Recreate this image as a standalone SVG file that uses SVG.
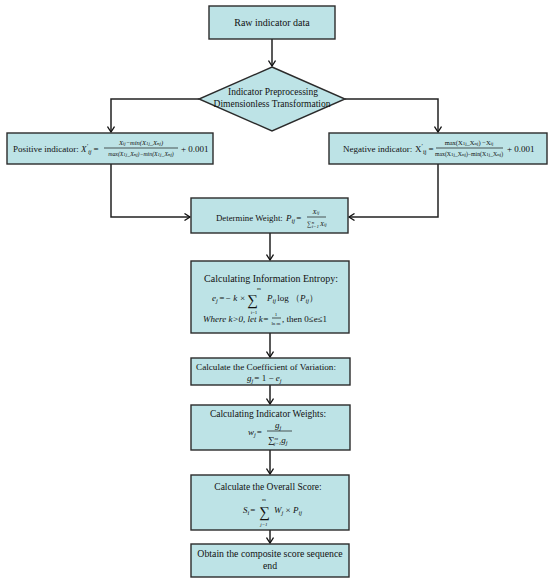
<svg xmlns="http://www.w3.org/2000/svg" width="550" height="583" viewBox="0 0 550 583">
<defs>
<marker id="arr" markerWidth="8" markerHeight="8" refX="6" refY="4" orient="auto" markerUnits="userSpaceOnUse">
<path d="M0.5,0.5 L6,4 L0.5,7.5" fill="none" stroke="#111" stroke-width="1.3"/>
</marker>
<style>
.box{fill:#bde3e6;stroke:#2b2b2b;stroke-width:1.4}
.ln{fill:none;stroke:#222;stroke-width:1.5}
text{font-family:"Liberation Serif","Times New Roman",serif;fill:#111;font-size:11px}
.c{text-anchor:middle}
.m{font-size:9px}
.s{font-size:6.5px}
.xs{font-size:5px}
.i{font-style:italic}
.sig{font-size:15px}
.bar{stroke:#151515;stroke-width:0.7}
</style>
</defs>
<rect width="550" height="583" fill="#ffffff"/>

<g id="connectors">
<path class="ln" d="M272,39 V66" marker-end="url(#arr)"/>
<path class="ln" d="M199,99 H111 V132" marker-end="url(#arr)"/>
<path class="ln" d="M345,99 H438 V132" marker-end="url(#arr)"/>
<path class="ln" d="M111,164 V217 H190" marker-end="url(#arr)"/>
<path class="ln" d="M438,164 V217 H349" marker-end="url(#arr)"/>
<path class="ln" d="M270,233 V260" marker-end="url(#arr)"/>
<path class="ln" d="M270,333 V357" marker-end="url(#arr)"/>
<path class="ln" d="M270,385 V404" marker-end="url(#arr)"/>
<path class="ln" d="M270,450 V474" marker-end="url(#arr)"/>
<path class="ln" d="M270,530 V543" marker-end="url(#arr)"/>
</g>

<g id="raw">
<rect class="box" x="209" y="6" width="126" height="33"/>
<text class="c" x="272" y="26" style="font-size:10px">Raw indicator data</text>
</g>

<g id="preprocess">
<polygon class="box" points="272,67 345,99 272,131 199,99"/>
<text class="c" x="273" y="95" style="font-size:9.5px">Indicator Preprocessing</text>
<text class="c" x="272" y="107" style="font-size:9.5px">Dimensionless Transformation</text>
</g>

<g id="positive">
<rect class="box" x="7" y="133" width="206" height="31"/>
<text x="13" y="152" class="m">Positive indicator:</text>
<text x="81" y="152" class="i m">X<tspan class="s" dy="-4">′</tspan><tspan class="s" dy="6">ij</tspan><tspan dy="-2" dx="2" style="font-style:normal">=</tspan></text>
<text class="c s i" x="141" y="145">X<tspan class="xs">ij</tspan>−min(X<tspan class="xs">1j</tspan>_X<tspan class="xs">nj</tspan>)</text>
<line class="bar" x1="104" y1="148" x2="178" y2="148"/>
<text class="c i" x="141" y="156" style="font-size:5.8px">max(X<tspan class="xs">1j</tspan>_X<tspan class="xs">nj</tspan>)−min(X<tspan class="xs">1j</tspan>_X<tspan class="xs">nj</tspan>)</text>
<text x="181" y="152" class="m">+ 0.001</text>
</g>

<g id="negative">
<rect class="box" x="329" y="133" width="218" height="31"/>
<text x="343" y="152" class="m">Negative indicator:</text>
<text x="415" y="152" class="m">X<tspan class="s" dy="-4">′</tspan><tspan class="s" dy="6">ij</tspan><tspan dy="-2" dx="2">=</tspan></text>
<text class="c s" x="469" y="145">max(X<tspan class="xs">1j</tspan>_X<tspan class="xs">nj</tspan>) −X<tspan class="xs">ij</tspan></text>
<line class="bar" x1="436" y1="148" x2="503" y2="148"/>
<text class="c" x="469" y="156" style="font-size:5.8px">max(X<tspan class="xs">1j</tspan>_X<tspan class="xs">nj</tspan>)−min(X<tspan class="xs">1j</tspan>_X<tspan class="xs">nj</tspan>)</text>
<text x="507" y="152" class="m">+ 0.001</text>
</g>

<g id="weight">
<rect class="box" x="191" y="198" width="157" height="35"/>
<text x="216" y="221" style="font-size:8.8px">Determine Weight:</text>
<text x="286" y="221" class="m i">P<tspan class="s" dy="2">ij</tspan><tspan dy="-2" dx="1" style="font-style:normal">=</tspan></text>
<text class="c s i" x="316" y="214">X<tspan class="xs">ij</tspan></text>
<line class="bar" x1="307" y1="217" x2="326" y2="217"/>
<text x="307" y="226" class="s i">∑<tspan class="xs" dy="-2.5">n</tspan><tspan class="xs" dx="-2.5" dy="4">i=1</tspan><tspan dy="-1.5" dx="1">X</tspan><tspan class="xs">ij</tspan></text>
</g>

<g id="entropy">
<rect class="box" x="191" y="261" width="158" height="72"/>
<text class="c" x="271" y="282" style="font-size:10px">Calculating Information Entropy:</text>
<text x="212" y="301" class="m i">e<tspan class="s" dy="2">j</tspan><tspan dy="-2" dx="1">=− k ×</tspan></text>
<text x="247" y="305" class="sig">∑</text>
<text class="xs c" x="259" y="290">m</text>
<text class="xs c" x="254" y="314">i=1</text>
<text x="267" y="301" class="m"><tspan class="i">P</tspan><tspan class="s i" dy="2">ij</tspan><tspan dy="-2" dx="1">log （</tspan><tspan class="i">P</tspan><tspan class="s i" dy="2">ij</tspan><tspan dy="-2">）</tspan></text>
<text x="203" y="322" class="m i">Where k&gt;0,  let k=</text>
<text class="c xs" x="276" y="316">1</text>
<line class="bar" x1="272" y1="318" x2="281" y2="318"/>
<text class="c xs" x="276" y="325">ln m</text>
<text x="282" y="322" class="m">, then 0≤e≤1</text>
</g>

<g id="coefficient">
<rect class="box" x="191" y="358" width="159" height="27"/>
<text class="c" x="266" y="370" style="font-size:9.2px">Calculate the Coefficient of Variation:</text>
<text x="247" y="381" class="m"><tspan class="i">g</tspan><tspan class="s i" dy="2">j</tspan><tspan dy="-2" dx="1">= 1 − </tspan><tspan class="i">e</tspan><tspan class="s i" dy="2">j</tspan></text>
</g>

<g id="weights">
<rect class="box" x="191" y="405" width="159" height="45"/>
<text class="c" x="268" y="417" style="font-size:9.5px">Calculating Indicator Weights:</text>
<text x="248" y="435" class="m"><tspan class="i">w</tspan><tspan class="s i" dy="2">j</tspan><tspan dy="-2" dx="1">=</tspan></text>
<text x="275" y="428" class="m i">g<tspan class="s" dy="2">j</tspan></text>
<line class="bar" x1="267" y1="431" x2="292" y2="431"/>
<text x="268" y="443" class="m i">∑<tspan class="xs" dy="-3.5">m</tspan><tspan class="xs" dx="-4" dy="5">j=1</tspan><tspan dy="-1.5">g</tspan><tspan class="s" dy="2">j</tspan></text>
</g>

<g id="overall">
<rect class="box" x="191" y="475" width="158" height="55"/>
<text class="c" x="268" y="490" style="font-size:9.5px">Calculate the Overall Score:</text>
<text x="243" y="513" class="m"><tspan class="i">S</tspan><tspan class="s i" dy="2">i</tspan><tspan dy="-2" dx="1">=</tspan></text>
<text x="259" y="517" class="sig">∑</text>
<text class="xs c" x="264" y="501">m</text>
<text class="xs c i" x="264" y="526">j=1</text>
<text x="274" y="513" class="m"><tspan class="i">W</tspan><tspan class="s i" dy="2">j</tspan><tspan dy="-2"> × </tspan><tspan class="i">P</tspan><tspan class="s i" dy="2">ij</tspan></text>
</g>

<g id="final">
<rect class="box" x="191" y="544" width="158" height="33"/>
<text class="c" x="270" y="557" style="font-size:9.8px">Obtain the composite score sequence</text>
<text class="c" x="270" y="569" style="font-size:9.8px">end</text>
</g>
</svg>
